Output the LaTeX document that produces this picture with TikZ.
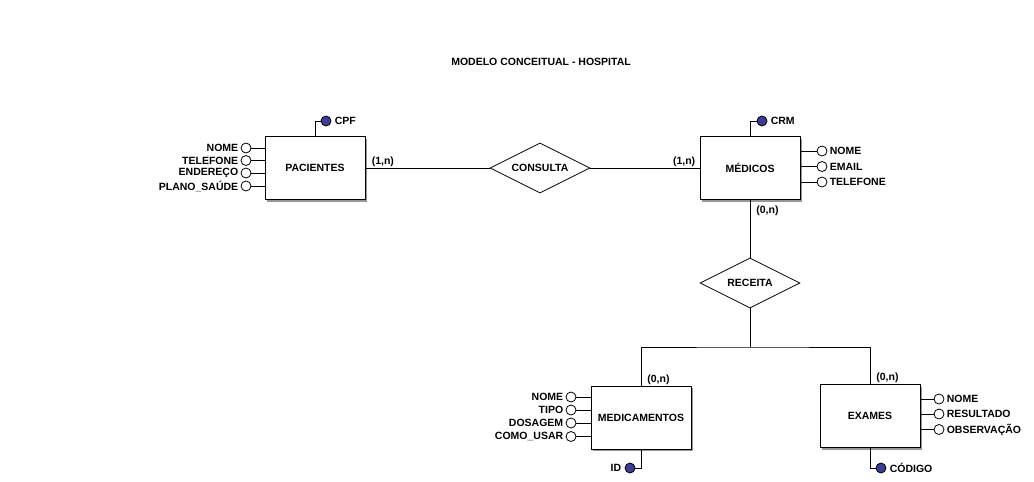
\documentclass[tikz,border=0pt]{standalone}
\usepackage{fontspec}
\setmainfont{Liberation Sans}
\usetikzlibrary{positioning,shapes.geometric,shadows}
\definecolor{azulchave}{RGB}{60,60,150}
\definecolor{sombra}{RGB}{150,150,150}

\begin{document}
\begin{tikzpicture}[x=1pt,y=-1pt,line width=0.8pt,
	font=\bfseries\fontsize{10.5}{12}\selectfont,
	entidade/.style={draw,fill=white,minimum width=100pt,minimum height=63pt,inner sep=0pt,
		drop shadow={shadow xshift=2pt,shadow yshift=-2pt,fill=sombra,opacity=1}},
	relacao/.style={draw,diamond,aspect=2,fill=white,minimum width=100pt,minimum height=50pt,inner sep=0pt},
	atributo/.style={draw,circle,fill=white,minimum size=10pt,inner sep=0pt},
	chave/.style={atributo,fill=azulchave},
	rotulo/.style={inner sep=1pt}]
	\useasboundingbox (0,0) rectangle (1034,482);

	\node (titulo) at (541,62) {MODELO CONCEITUAL - HOSPITAL};

	% entidades e relacionamentos
	\node[entidade] (pac) at (315,168) {PACIENTES};
	\node[entidade] (med) at (750,168) {MÉDICOS};
	\node[entidade] (medic) at (641,417.5) {MEDICAMENTOS};
	\node[entidade] (exa) at (870,416) {EXAMES};
	\node[relacao] (consulta) at (540,168) {CONSULTA};
	\node[relacao] (receita) at (750,283) {RECEITA};

	\draw (pac.east) -- (consulta.west);
	\draw (consulta.east) -- (med.west);
	\node[rotulo,above right=0pt and 5pt of pac.east] (c1) {(1,n)};
	\node[rotulo,above left=0pt and 3pt of med.west] (c2) {(1,n)};
	\draw (med.south) -- (receita.north);
	\node[rotulo,below right=5pt and 5pt of med.south] (c3) {(0,n)};
	\coordinate (ramo) at (750,347);
	\draw (receita.south) -- (ramo);
	\draw (medic.north) |- (ramo) -| (exa.north);
	\node[rotulo,above right=0pt and 5pt of medic.north] (c4) {(0,n)};
	\node[rotulo,above right=0pt and 5pt of exa.north] (c5) {(0,n)};

	% pacientes
	\node[chave] (pcpf) at (326,121) {};
	\draw (pac.north) |- (pcpf);
	\node[rotulo,right=2pt of pcpf] {CPF};
	\node[atributo] (pnome) at (246,148) {};
	\node[atributo] (ptel) at (246,160.5) {};
	\node[atributo] (pend) at (246,173) {};
	\node[atributo] (pplano) at (246,186) {};
	\foreach \a/\t in {pnome/NOME,ptel/TELEFONE,pend/ENDEREÇO,pplano/PLANO\_SAÚDE}{
		\draw (\a) -- (\a -| pac.west);
		\node[rotulo,left=1pt of \a] {\t};
	}

	% medicos
	\node[chave] (mcrm) at (762,121) {};
	\draw (med.north) |- (mcrm);
	\node[rotulo,right=2pt of mcrm] {CRM};
	\node[atributo] (mnome) at (822,151) {};
	\node[atributo] (memail) at (822,166.5) {};
	\node[atributo] (mtel) at (822,182) {};
	\foreach \a/\t in {mnome/NOME,memail/EMAIL,mtel/TELEFONE}{
		\draw (\a) -- (\a -| med.east);
		\node[rotulo,right=1pt of \a] {\t};
	}

	% medicamentos
	\node[chave] (mid) at (630,468) {};
	\draw (medic.south) |- (mid);
	\node[rotulo,left=2pt of mid] {ID};
	\node[atributo] (dnome) at (571,397) {};
	\node[atributo] (dtipo) at (571,410) {};
	\node[atributo] (ddos) at (571,423) {};
	\node[atributo] (duso) at (571,436.5) {};
	\foreach \a/\t in {dnome/NOME,dtipo/TIPO,ddos/DOSAGEM,duso/COMO\_USAR}{
		\draw (\a) -- (\a -| medic.west);
		\node[rotulo,left=1pt of \a] {\t};
	}

	% exames
	\node[chave] (ecod) at (881,468) {};
	\draw (exa.south) |- (ecod);
	\node[rotulo,right=2pt of ecod] {CÓDIGO};
	\node[atributo] (enome) at (939,399) {};
	\node[atributo] (eres) at (939,414) {};
	\node[atributo] (eobs) at (939,429.5) {};
	\foreach \a/\t in {enome/NOME,eres/RESULTADO,eobs/OBSERVAÇÃO}{
		\draw (\a) -- (\a -| exa.east);
		\node[rotulo,right=1pt of \a] {\t};
	}
\end{tikzpicture}
\end{document}
